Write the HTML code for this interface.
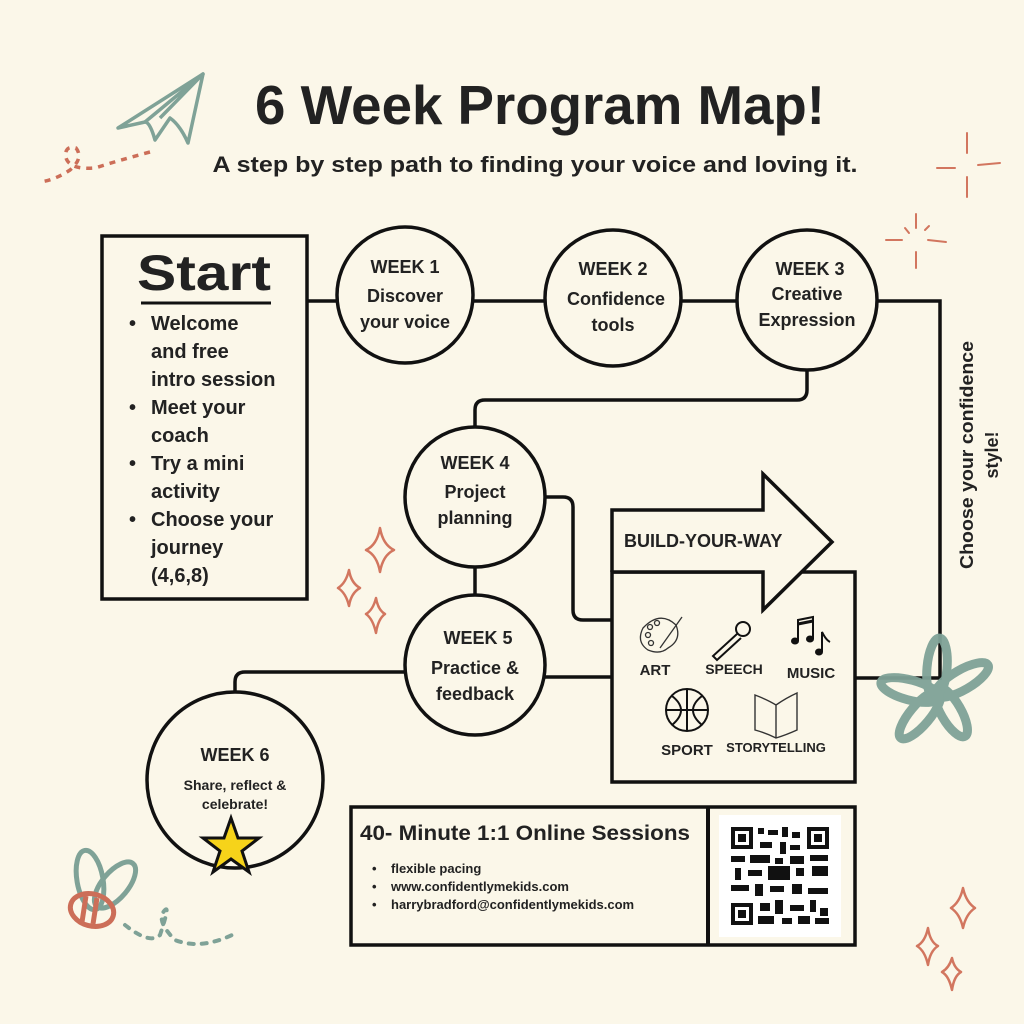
<!DOCTYPE html>
<html><head><meta charset="utf-8"><style>
html,body{margin:0;padding:0;background:#fbf7e9;}
svg{display:block;}
text{font-family:"Liberation Sans","DejaVu Sans",sans-serif;font-weight:bold;fill:#222;}
</style></head><body>
<svg width="1024" height="1024" viewBox="0 0 1024 1024" xmlns="http://www.w3.org/2000/svg">
<rect width="1024" height="1024" fill="#fbf7e9"/>
<!-- title -->
<text x="540" y="124" font-size="55" text-anchor="middle" textLength="570" lengthAdjust="spacingAndGlyphs">6 Week Program Map!</text>
<text x="535" y="172" font-size="22" text-anchor="middle" textLength="645" lengthAdjust="spacingAndGlyphs">A step by step path to finding your voice and loving it.</text>

<!-- paper plane -->
<g fill="none" stroke="#7fa297" stroke-width="3.5" stroke-linejoin="round">
<path d="M118,128 L203,74 L188,143 Q180,125 170,118 L155,140 Q150,122 145,122 Z"/>
<path d="M145,122 L203,74 L160,118"/>
</g>
<path d="M150,152 Q120,160 95,168 Q70,170 66,158 Q64,145 76,148 Q84,158 70,170 Q55,180 40,182" fill="none" stroke="#cc6e58" stroke-width="3.5" stroke-dasharray="6,6"/>

<!-- sparkle lines top right -->
<g stroke="#d2765f" stroke-width="2" stroke-linecap="round">
<line x1="967" y1="133" x2="967" y2="153"/><line x1="967" y1="177" x2="967" y2="197"/>
<line x1="937" y1="168" x2="955" y2="168"/><line x1="978" y1="165" x2="1000" y2="163"/>
<line x1="916" y1="214" x2="916" y2="228"/><line x1="916" y1="252" x2="916" y2="268"/>
<line x1="886" y1="240" x2="902" y2="240"/><line x1="928" y1="240" x2="946" y2="242"/>
<line x1="905" y1="228" x2="909" y2="233"/><line x1="925" y1="230" x2="929" y2="226"/>
</g>

<!-- connectors -->
<g fill="none" stroke="#111" stroke-width="3.5">
<path d="M307,301 H940 V678 H855"/>
<path d="M807,370 V390 Q807,400 797,400 H485 Q475,400 475,410 V428"/>
<path d="M545,497 H563 Q573,497 573,507 V610 Q573,620 583,620 H612"/>
<path d="M475,567 V596"/>
<path d="M545,677 H612"/>
<path d="M405,672 H245 Q235,672 235,682 V693"/>
</g>

<!-- start box -->
<rect x="102" y="236" width="205" height="363" fill="#fbf7e9" stroke="#111" stroke-width="3.5"/>
<text x="204" y="290" font-size="50" text-anchor="middle" textLength="134" lengthAdjust="spacingAndGlyphs">Start</text>
<line x1="141" y1="303" x2="271" y2="303" stroke="#111" stroke-width="3"/>
<g font-size="20">
<text x="129" y="330">•</text><text x="151" y="330">Welcome</text>
<text x="151" y="358">and free</text><text x="151" y="386">intro session</text>
<text x="129" y="414">•</text><text x="151" y="414">Meet your</text>
<text x="151" y="442">coach</text>
<text x="129" y="470">•</text><text x="151" y="470">Try a mini</text>
<text x="151" y="498">activity</text>
<text x="129" y="526">•</text><text x="151" y="526">Choose your</text>
<text x="151" y="554">journey</text><text x="151" y="582">(4,6,8)</text>
</g>

<!-- circles -->
<g fill="#fbf7e9" stroke="#111" stroke-width="3.5">
<circle cx="405" cy="295" r="68"/>
<circle cx="613" cy="298" r="68"/>
<circle cx="807" cy="300" r="70"/>
<circle cx="475" cy="497" r="70"/>
<circle cx="475" cy="665" r="70"/>
<circle cx="235" cy="780" r="88"/>
</g>
<g font-size="18" text-anchor="middle">
<text x="405" y="273">WEEK 1</text><text x="405" y="302">Discover</text><text x="405" y="328">your voice</text>
<text x="613" y="275">WEEK 2</text><text x="616" y="305">Confidence</text><text x="613" y="331">tools</text>
<text x="810" y="275">WEEK 3</text><text x="807" y="300">Creative</text><text x="807" y="326">Expression</text>
<text x="475" y="469">WEEK 4</text><text x="475" y="498">Project</text><text x="475" y="524">planning</text>
<text x="478" y="644">WEEK 5</text><text x="475" y="674">Practice &amp;</text><text x="475" y="700">feedback</text>
<text x="235" y="761">WEEK 6</text>
<text x="235" y="790" font-size="14">Share, reflect &amp;</text>
<text x="235" y="809" font-size="14">celebrate!</text>
</g>
<polygon points="231,818 238,838 259,838 242,851 249,872 231,859 213,872 220,851 203,838 224,838" fill="#f6d31a" stroke="#111" stroke-width="3"/>

<!-- build your way -->
<rect x="612" y="572" width="243" height="210" fill="#fbf7e9" stroke="#111" stroke-width="3.5"/>
<path d="M612,572 V510 H763 V474 L832,542 L763,610 V572 H612" fill="#fbf7e9" stroke="#111" stroke-width="3.5"/>
<text x="624" y="547" font-size="18">BUILD-YOUR-WAY</text>
<!-- icons -->
<g fill="none" stroke="#333" stroke-width="1.3">
<path d="M643,628 Q660,610 676,625 Q682,640 668,648 Q660,655 648,650 Q636,642 643,628 Z"/>
<circle cx="650" cy="627" r="2.5"/><circle cx="657" cy="623" r="2.5"/><circle cx="648" cy="635" r="2.5"/><circle cx="651" cy="643" r="2.5"/>
<line x1="660" y1="648" x2="682" y2="617"/>
</g>
<g fill="none" stroke="#111" stroke-width="2">
<circle cx="743" cy="629" r="7"/>
<path d="M737,634 L713,656 L717,660 L741,638"/>
</g>
<g fill="#111">
<ellipse cx="795" cy="641" rx="4" ry="3.5"/><ellipse cx="810" cy="639" rx="4" ry="3.5"/><ellipse cx="819" cy="652" rx="4" ry="3.5"/>
<path d="M798,641 V620 L813,617 V639" fill="none" stroke="#111" stroke-width="2"/>
<path d="M798,624 L813,621" stroke="#111" stroke-width="3"/>
<path d="M822,652 V632 Q826,640 830,642" fill="none" stroke="#111" stroke-width="2"/>
</g>
<g fill="none" stroke="#111" stroke-width="2">
<circle cx="687" cy="710" r="21"/>
<path d="M666,710 H708 M687,689 V731 M672,696 Q690,710 672,725 M702,696 Q684,710 702,725"/>
</g>
<g fill="none" stroke="#333" stroke-width="1.4">
<path d="M755,695 Q768,700 776,705 Q786,698 797,693 V730 Q786,735 776,738 Q766,733 755,730 Z M776,705 V738"/>
</g>
<g font-size="15" text-anchor="middle">
<text x="655" y="675">ART</text><text x="734" y="674" font-size="14">SPEECH</text><text x="811" y="678">MUSIC</text>
<text x="687" y="755">SPORT</text><text x="776" y="752" font-size="13">STORYTELLING</text>
</g>

<!-- vertical text -->
<text transform="translate(973,455) rotate(-90)" font-size="18" text-anchor="middle" textLength="228" lengthAdjust="spacingAndGlyphs">Choose your confidence</text>
<text transform="translate(998,455) rotate(-90)" font-size="18" text-anchor="middle">style!</text>

<!-- flower -->
<g fill="none" stroke="#7fa297" stroke-width="9" opacity="0.95">
<ellipse cx="937" cy="668" rx="10" ry="30" transform="rotate(5 937 668)"/>
<ellipse cx="962" cy="680" rx="10" ry="30" transform="rotate(60 962 680)"/>
<ellipse cx="951" cy="712" rx="10" ry="28" transform="rotate(150 951 712)"/>
<ellipse cx="920" cy="715" rx="10" ry="30" transform="rotate(220 920 715)"/>
<ellipse cx="910" cy="690" rx="10" ry="30" transform="rotate(-75 910 690)"/>
</g>

<!-- sparkles -->
<g fill="none" stroke="#d2765f" stroke-width="2.5" stroke-linejoin="round">
<path d="M380,528 Q383,545 394,550 Q383,555 380,572 Q377,555 366,550 Q377,545 380,528 Z"/>
<path d="M349,570 Q351,583 360,588 Q351,593 349,606 Q346,593 338,588 Q346,583 349,570 Z"/>
<path d="M376,598 Q378,610 385,614 Q378,619 376,633 Q373,619 366,614 Q373,610 376,598 Z"/>
<path d="M963,888 Q966,902 975,908 Q966,914 963,928 Q960,914 951,908 Q960,902 963,888 Z"/>
<path d="M928,928 Q930,942 938,946 Q930,951 928,965 Q925,951 917,946 Q925,942 928,928 Z"/>
<path d="M952,958 Q954,968 961,972 Q954,976 952,990 Q949,976 942,972 Q949,968 952,958 Z"/>
</g>

<!-- bee -->
<g fill="none" stroke="#7fa297" stroke-width="5">
<ellipse cx="90" cy="880" rx="13" ry="30" transform="rotate(-10 90 880)"/>
<ellipse cx="115" cy="885" rx="13" ry="28" transform="rotate(40 115 885)"/>
</g>
<g fill="none" stroke="#cc6e58" stroke-width="5">
<ellipse cx="92" cy="910" rx="22" ry="16" transform="rotate(15 92 910)"/>
<path d="M86,896 L82,922 M97,898 L93,924"/>
</g>
<path d="M125,925 Q150,945 160,935 Q170,905 165,910 Q155,920 175,940 Q200,950 232,935" fill="none" stroke="#7fa297" stroke-width="4" stroke-dasharray="5,8" stroke-linecap="round"/>

<!-- bottom box -->
<rect x="351" y="807" width="504" height="138" fill="#fbf7e9" stroke="#111" stroke-width="3.5"/>
<line x1="708" y1="807" x2="708" y2="945" stroke="#111" stroke-width="4"/>
<text x="360" y="840" font-size="21" textLength="330" lengthAdjust="spacingAndGlyphs">40- Minute 1:1 Online Sessions</text>
<g font-size="13">
<text x="372" y="873">•</text><text x="391" y="873">flexible pacing</text>
<text x="372" y="891">•</text><text x="391" y="891">www.confidentlymekids.com</text>
<text x="372" y="909">•</text><text x="391" y="909">harrybradford@confidentlymekids.com</text>
</g>
<rect x="719" y="815" width="122" height="122" fill="#fff"/>
<g fill="#111">
<rect x="731" y="827" width="22" height="22"/><rect x="735" y="831" width="14" height="14" fill="#fff"/><rect x="738" y="834" width="8" height="8"/>
<rect x="807" y="827" width="22" height="22"/><rect x="811" y="831" width="14" height="14" fill="#fff"/><rect x="814" y="834" width="8" height="8"/>
<rect x="731" y="903" width="22" height="22"/><rect x="735" y="907" width="14" height="14" fill="#fff"/><rect x="738" y="910" width="8" height="8"/>
<rect x="758" y="828" width="6" height="6"/><rect x="768" y="830" width="10" height="5"/><rect x="782" y="827" width="6" height="10"/><rect x="792" y="832" width="8" height="6"/>
<rect x="760" y="842" width="12" height="6"/><rect x="780" y="842" width="6" height="12"/><rect x="790" y="845" width="10" height="5"/>
<rect x="731" y="856" width="14" height="6"/><rect x="750" y="855" width="20" height="8"/><rect x="775" y="858" width="8" height="6"/><rect x="790" y="856" width="14" height="8"/><rect x="810" y="855" width="18" height="6"/>
<rect x="735" y="868" width="6" height="12"/><rect x="748" y="870" width="14" height="6"/><rect x="768" y="866" width="22" height="14"/><rect x="796" y="868" width="8" height="8"/><rect x="812" y="866" width="16" height="10"/>
<rect x="731" y="885" width="18" height="6"/><rect x="755" y="884" width="8" height="12"/><rect x="770" y="886" width="14" height="6"/><rect x="792" y="884" width="10" height="10"/><rect x="808" y="888" width="20" height="6"/>
<rect x="760" y="903" width="10" height="8"/><rect x="775" y="900" width="8" height="14"/><rect x="790" y="905" width="14" height="6"/><rect x="810" y="900" width="6" height="12"/><rect x="820" y="908" width="8" height="8"/>
<rect x="758" y="916" width="16" height="8"/><rect x="782" y="918" width="10" height="6"/><rect x="798" y="916" width="12" height="8"/><rect x="815" y="918" width="14" height="6"/>
</g>
</svg>
</body></html>
